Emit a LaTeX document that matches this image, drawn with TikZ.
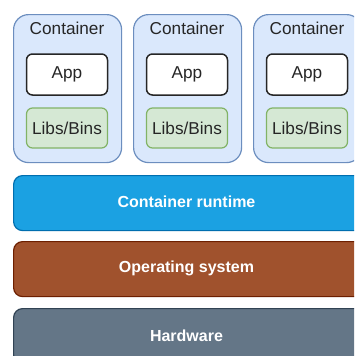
\documentclass[tikz,border=0pt]{standalone}
\usepackage{fontspec}
\setmainfont{Liberation Sans}
\definecolor{ctfill}{HTML}{DAE8FC}
\definecolor{ctline}{HTML}{6C8EBF}
\definecolor{libfill}{HTML}{D5E8D4}
\definecolor{libline}{HTML}{82B366}
\definecolor{rtfill}{HTML}{1BA1E2}
\definecolor{rtline}{HTML}{006EAF}
\definecolor{osfill}{HTML}{A0522D}
\definecolor{osline}{HTML}{6D1F00}
\definecolor{hwfill}{HTML}{647687}
\definecolor{hwline}{HTML}{314354}
\definecolor{txt}{HTML}{262626}
\tikzset{
  ctbox/.style={draw=ctline, fill=ctfill, line width=1.2pt, rounded corners=15pt,
    minimum width=108pt, minimum height=148pt, inner sep=0pt},
  appbox/.style={draw=txt, fill=white, line width=1.5pt, rounded corners=6pt,
    minimum width=81pt, minimum height=41pt, inner sep=0pt, text=txt,
    font=\fontsize{17.2}{19}\selectfont},
  libbox/.style={draw=libline, fill=libfill, line width=1.2pt, rounded corners=6pt,
    minimum width=81pt, minimum height=40pt, inner sep=0pt, text=txt,
    font=\fontsize{17.2}{19}\selectfont},
  ctlabel/.style={text=txt, inner sep=0pt, font=\fontsize{17.2}{19}\selectfont},
  layer/.style={line width=1.2pt, rounded corners=9pt, minimum width=360pt,
    minimum height=55pt, inner sep=0pt, anchor=north west},
  layerlabel/.style={text=white, inner sep=0pt, font=\fontsize{16}{18}\selectfont\bfseries},
}
\begin{document}
\begin{tikzpicture}[x=1pt, y=-1pt]
  \useasboundingbox (0,0) rectangle (354,356);
  \clip (0,0) rectangle (354,356);
  \fill[white] (0,0) rectangle (354,356);
  % three containers, each holding an app and its libraries
  \foreach \i/\x in {1/13, 2/133, 3/253} {
    \node[ctbox, anchor=north west] (c\i) at (\x,14) {};
    \node[ctlabel] (c\i lbl) at (\x+54,28.5) {Container};
    \node[appbox] (app\i) at (\x+54,74.5) {App};
    \node[libbox] (lib\i) at (\x+54,128) {Libs/Bins};
  }
  % stacked layers below the containers
  \node[layer, draw=rtline, fill=rtfill] (runtime) at (13,175) {};
  \node[layerlabel] (rtlbl) at (186.5,202) {Container runtime};
  \node[layer, draw=osline, fill=osfill] (os) at (13,241) {};
  \node[layerlabel] (oslbl) at (186.5,268.5) {Operating system};
  \node[layer, draw=hwline, fill=hwfill] (hw) at (13,308) {};
  \node[layerlabel] (hwlbl) at (186.5,336) {Hardware};
\end{tikzpicture}
\end{document}
